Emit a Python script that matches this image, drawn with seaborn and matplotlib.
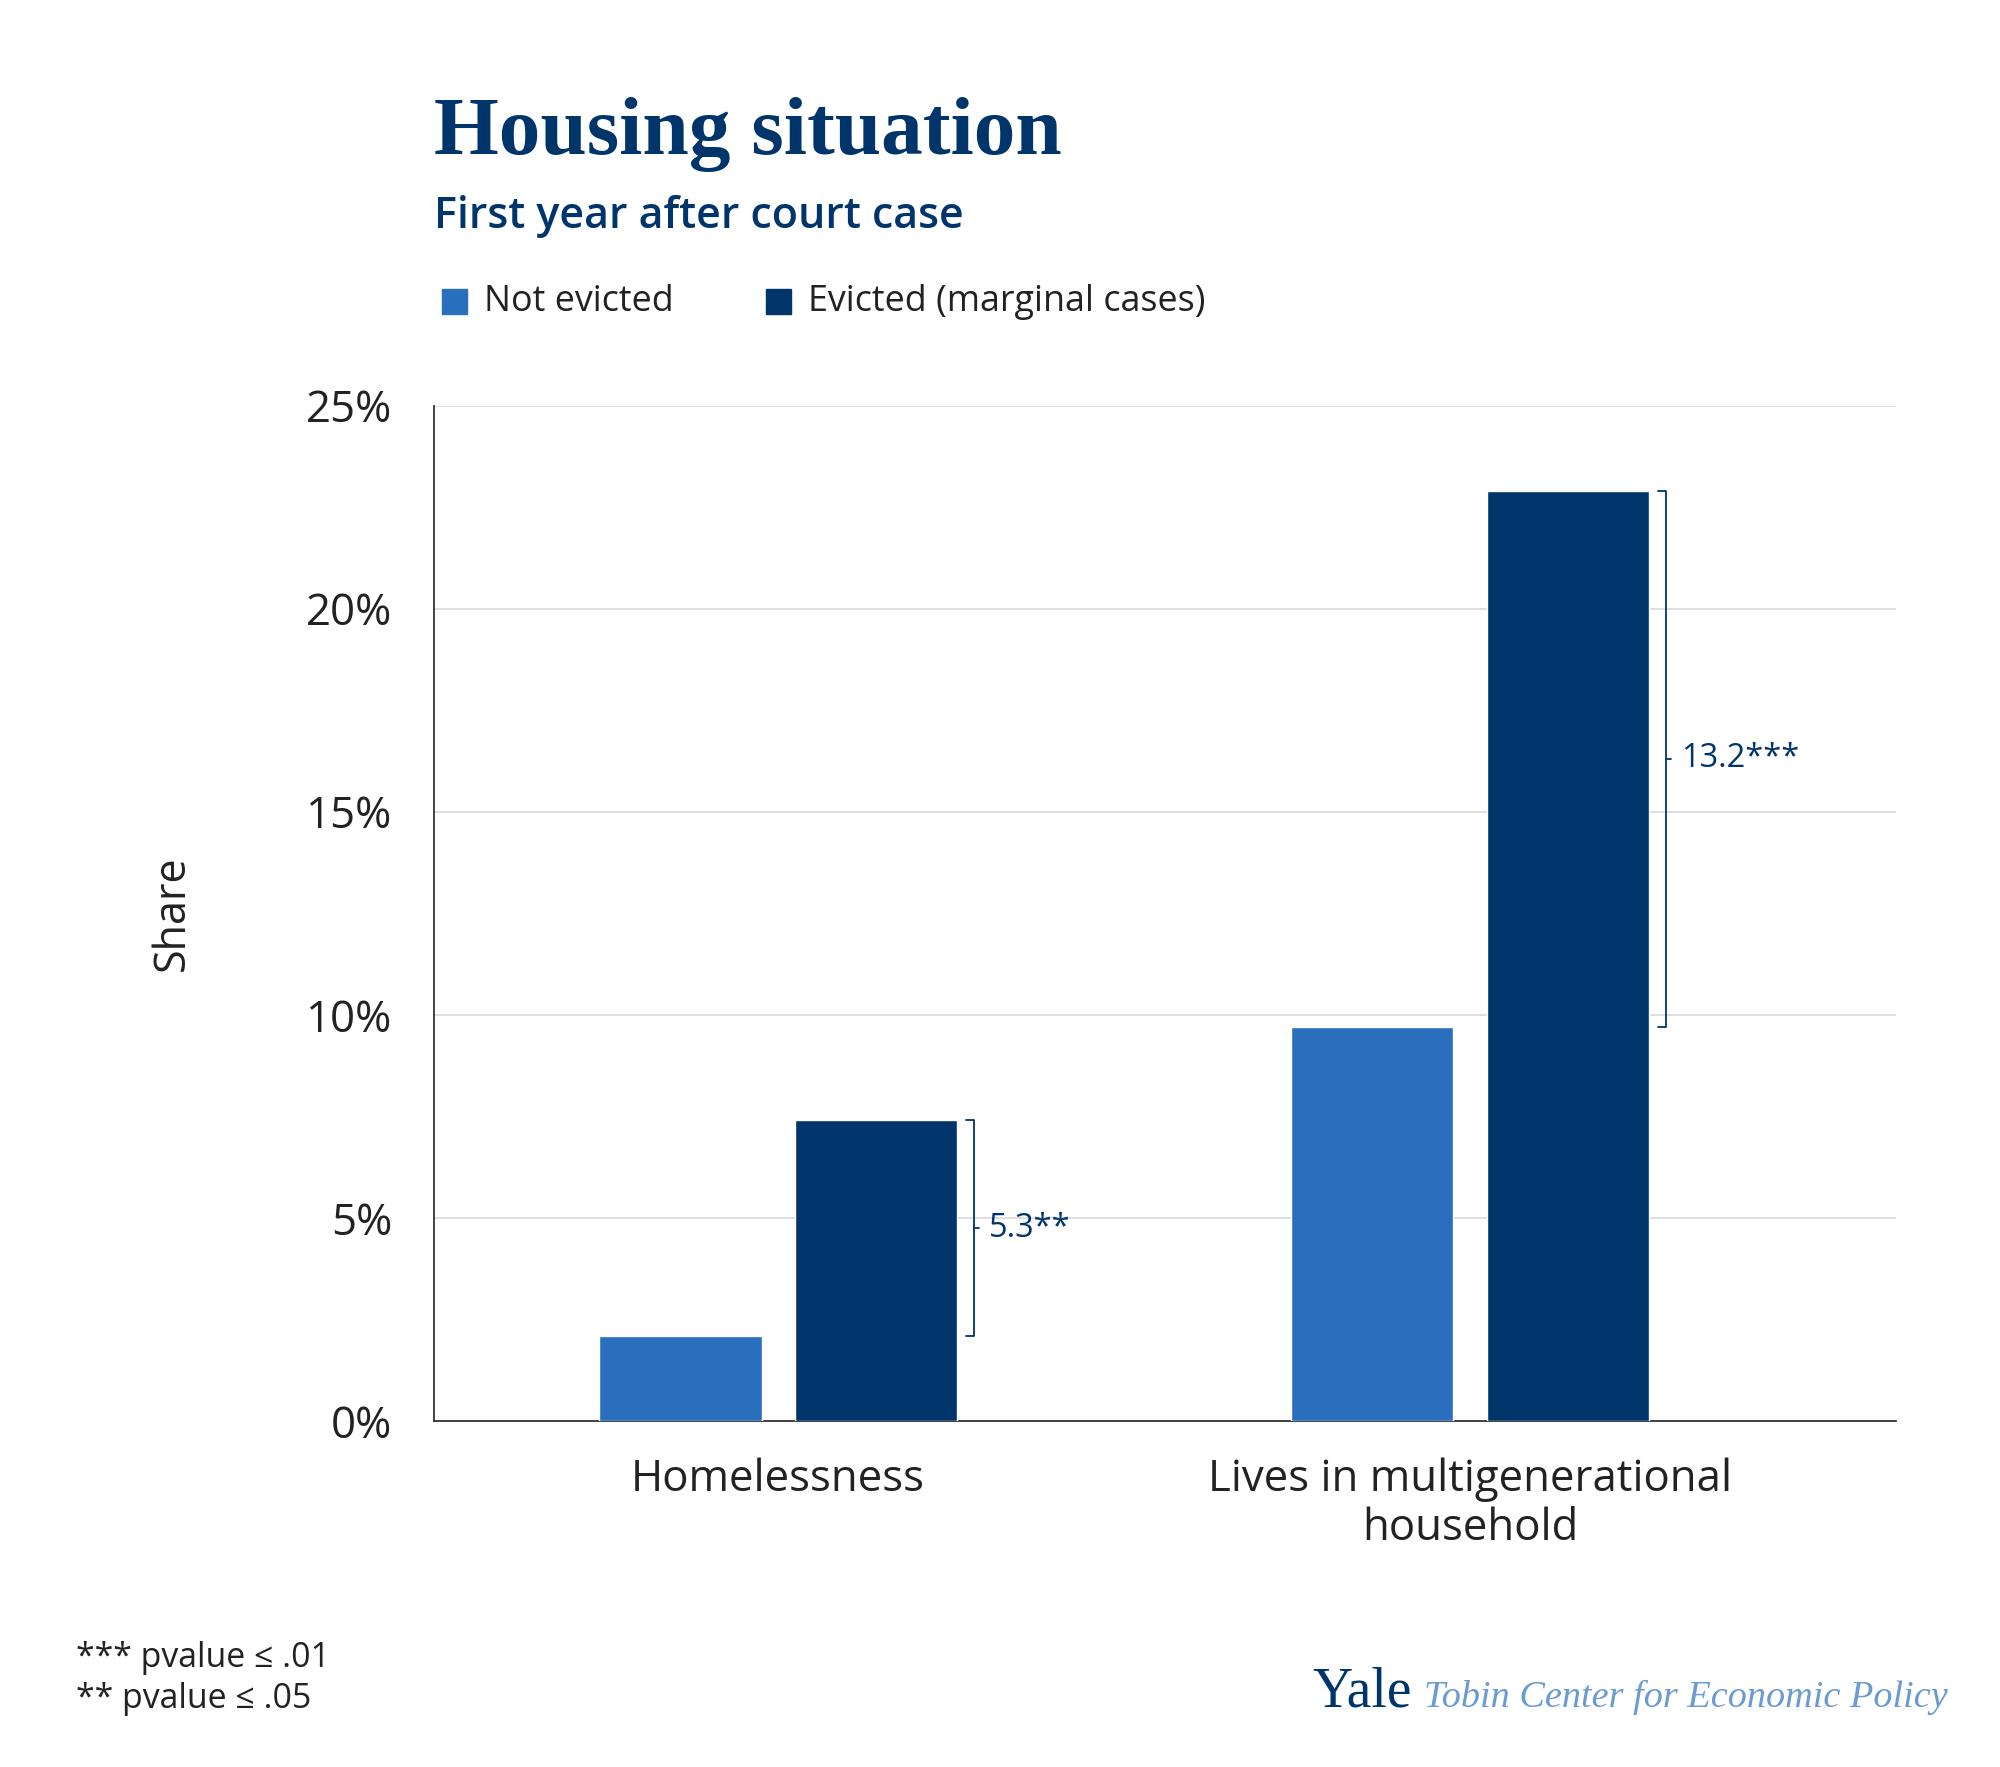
import matplotlib
matplotlib.use("Agg")
import matplotlib.pyplot as plt
import pandas as pd
import seaborn as sns
from matplotlib.patches import Rectangle

# Data
categories = ["Homelessness", "Lives in multigenerational\nhousehold"]
groups = ["Not evicted", "Evicted (marginal cases)"]
not_evicted = [2.1, 9.7]
evicted = [7.4, 22.9]
diff_labels = ["5.3**", "13.2***"]
y_ticks = [0, 5, 10, 15, 20, 25]

NAVY = "#00356b"
BLUE = "#2a6ebe"
TEXT = "#222222"
LIGHT = "#6b9bd1"

df = pd.DataFrame({
    "category": categories * 2,
    "group": [groups[0]] * 2 + [groups[1]] * 2,
    "value": not_evicted + evicted,
})

sns.set_style("white")
plt.rcParams["font.family"] = ["Open Sans", "DejaVu Sans"]

fig = plt.figure(figsize=(20, 17.67), dpi=100)
ax = fig.add_axes([0.2168, 0.1958, 0.731, 0.5747])

sns.barplot(data=df, x="category", y="value", hue="group",
            order=categories, hue_order=groups,
            palette=[BLUE, NAVY], saturation=1, width=0.566, gap=0.17,
            legend=False, ax=ax, zorder=3)

ax.set_xlim(-0.498, 1.615)
ax.set_ylim(0, 25)
ax.set_yticks(y_ticks)
ax.set_yticklabels([f"{t}%" for t in y_ticks])
ax.grid(axis="y", color="#d9d9d9", linewidth=1.2, zorder=0)
ax.set_axisbelow(True)
for s in ["top", "right"]:
    ax.spines[s].set_visible(False)
for s in ["left", "bottom"]:
    ax.spines[s].set_color("#333333")
    ax.spines[s].set_linewidth(1.3)
ax.tick_params(axis="y", length=18, width=1.3, color="#333333",
               labelsize=31.5, labelcolor=TEXT, pad=12)
ax.tick_params(axis="x", length=0, labelsize=31.5, labelcolor=TEXT, pad=26)
for lbl in ax.get_xticklabels():
    lbl.set_fontweight("medium")
    lbl.set_linespacing(1.15)
ax.set_xlabel("")
ax.set_ylabel("Share", fontsize=31, color=TEXT, labelpad=80, fontweight="medium")

# significance brackets next to the evicted bars
ev_bars = ax.patches[len(categories):2 * len(categories)]
for i, bar in enumerate(ev_bars):
    lo, hi = not_evicted[i], evicted[i]
    bx = bar.get_x() + bar.get_width() + 0.024
    tk = 0.012
    ax.plot([bx - tk, bx, bx, bx - tk], [hi, hi, lo, lo],
            color=NAVY, linewidth=1.3, zorder=4, clip_on=False)
    mid = (lo + hi) / 2
    ax.plot([bx, bx + 0.008], [mid, mid], color=NAVY, linewidth=1.3, zorder=4)
    ax.text(bx + 0.022, mid, diff_labels[i], color=NAVY, fontsize=23.5,
            va="center", ha="left")

# titles
fig.text(0.217, 0.913, "Housing situation", fontsize=60, fontweight="bold",
         color=NAVY, family=["Liberation Serif", "DejaVu Serif"], va="baseline")
fig.text(0.217, 0.871, "First year after court case", fontsize=31,
         fontweight="semibold", color=NAVY, va="baseline")

# legend
leg_y = 0.829
for x0, lab, col in [(0.221, groups[0], BLUE), (0.383, groups[1], NAVY)]:
    fig.patches.append(Rectangle((x0, leg_y - 0.0068), 0.0125, 0.0141,
                                 transform=fig.transFigure, color=col))
    fig.text(x0 + 0.021, leg_y, lab, fontsize=25.8, color=TEXT, va="center")

# footnotes
fig.text(0.038, 0.0617, "*** pvalue \u2264 .01", fontsize=24.4, color=TEXT, va="center")
fig.text(0.038, 0.0385, "** pvalue \u2264 .05", fontsize=24.4, color=TEXT, va="center")

# logo
fig.text(0.656, 0.034, "Yale", fontsize=40, color=NAVY,
         family=["Liberation Serif", "DejaVu Serif"], va="baseline")
fig.text(0.974, 0.034, "Tobin Center for Economic Policy", fontsize=27.5,
         color=LIGHT, style="italic",
         family=["Liberation Serif", "DejaVu Serif"], va="baseline", ha="right")

fig.savefig("out.png", dpi=100, facecolor="white")
